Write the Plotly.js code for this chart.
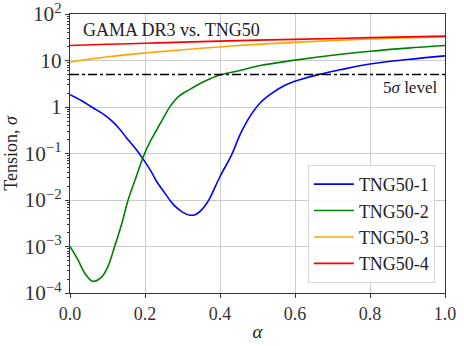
<!DOCTYPE html>
<html>
<head>
<meta charset="utf-8">
<script src="https://cdn.plot.ly/plotly-3.0.1.min.js"></script>
<style>
  html, body { margin: 0; padding: 0; background: #fff; }
  #plot { width: 464px; height: 346px; }
</style>
</head>
<body>
<div id="plot"></div>
<script>
// tension vs alpha
let alpha1 = [0, 0.03, 0.062, 0.085, 0.107, 0.13, 0.151, 0.175, 0.196, 0.215, 0.231, 0.25, 0.267, 0.28, 0.3, 0.32, 0.335, 0.347, 0.36, 0.373, 0.4, 0.43, 0.455, 0.48, 0.507, 0.533, 0.56, 0.587, 0.613, 0.667, 0.72, 0.8, 0.9, 1.0];
let tng1 = [1.84, 1.38, 0.95, 0.74, 0.54, 0.355, 0.215, 0.126, 0.074, 0.043, 0.025, 0.0152, 0.0098, 0.0074, 0.0055, 0.0047, 0.0049, 0.0057, 0.0075, 0.011, 0.032, 0.09, 0.27, 0.63, 1.22, 1.84, 2.57, 3.28, 3.87, 5.1, 6.3, 8.4, 10.5, 12.6];

let alpha2 = [0, 0.021, 0.039, 0.061, 0.084, 0.101, 0.119, 0.137, 0.155, 0.175, 0.196, 0.215, 0.231, 0.25, 0.267, 0.29, 0.32, 0.347, 0.375, 0.4, 0.453, 0.507, 0.6, 0.7, 0.8, 0.9, 1.0];
let tng2 = [0.001, 0.00052, 0.00027, 0.000178, 0.00022, 0.00037, 0.001, 0.0029, 0.01, 0.029, 0.088, 0.19, 0.32, 0.6, 1.03, 1.7, 2.4, 3.2, 4.1, 4.9, 6.1, 7.8, 10.2, 13, 15.8, 18.5, 21];

let alpha34 = [0, 0.1, 0.2, 0.3, 0.45, 0.6, 0.8, 1.0];
let tng3 = [9.3, 12, 14.5, 17, 21, 24.5, 29, 32];
let tng4 = [21, 22.3, 23.5, 24.8, 26.8, 28.5, 31, 33.5];

let fiveSigma = 5;

let serif = "Liberation Serif";

function series(x, y, name, color) {
    return {
        x: x, y: y, name: name, type: "scatter", mode: "lines",
        line: { color: color, width: 1.6, shape: "spline", smoothing: 1 }
    };
}

let data = [
    series(alpha1, tng1, "TNG50-1", "blue"),
    series(alpha2, tng2, "TNG50-2", "green"),
    series(alpha34, tng3, "TNG50-3", "orange"),
    series(alpha34, tng4, "TNG50-4", "red"),
    // 5 sigma reference line
    {
        x: [0, 1], y: [fiveSigma, fiveSigma], type: "scatter", mode: "lines",
        line: { color: "black", width: 1.5, dash: "dashdot" },
        showlegend: false, hoverinfo: "skip"
    }
];

let layout = {
    width: 464,
    height: 346,
    margin: { l: 70, r: 19, t: 14, b: 53 },
    paper_bgcolor: "white",
    plot_bgcolor: "white",
    font: { family: serif, size: 18, color: "#222" },
    showlegend: true,
    xaxis: {
        range: [0, 1],
        dtick: 0.2,
        tickformat: ".1f",
        showgrid: true, gridcolor: "#cccccc", gridwidth: 1,
        zeroline: false,
        showline: true, linecolor: "#333", linewidth: 1, mirror: true,
        ticks: "outside", ticklen: 4, tickcolor: "#333",
        tickfont: { family: serif, size: 18, color: "#333" },
        title: { text: "<i>α</i>", font: { family: serif, size: 19 }, standoff: 2 }
    },
    yaxis: {
        type: "log",
        range: [-4, 2],
        dtick: 1,
        exponentformat: "power",
        ticklabeloverflow: "allow",
        showgrid: true, gridcolor: "#cccccc", gridwidth: 1,
        zeroline: false,
        showline: true, linecolor: "#333", linewidth: 1, mirror: true,
        ticks: "outside", ticklen: 4, tickcolor: "#333",
        minor: { ticks: "outside", ticklen: 2, tickcolor: "#333", showgrid: false },
        tickfont: { family: serif, size: 17, color: "#333" },
        title: { text: "Tension, <i>σ</i>", font: { family: serif, size: 18 }, standoff: 2 }
    },
    legend: {
        x: 0.973, y: 0.036, xanchor: "right", yanchor: "bottom",
        bgcolor: "rgba(255,255,255,0.85)",
        bordercolor: "#d8d8d8", borderwidth: 1,
        itemwidth: 40,
        font: { family: serif, size: 18, color: "#222" }
    },
    annotations: [
        {
            text: "GAMA DR3 vs. TNG50", xref: "paper", yref: "paper",
            x: 0.03, y: 0.985, xanchor: "left", yanchor: "top",
            showarrow: false, font: { family: serif, size: 18, color: "#222" }
        },
        {
            text: "5<i>σ</i> level", xref: "paper", yref: "paper",
            x: 0.985, y: 0.735, xanchor: "right", yanchor: "middle",
            showarrow: false, font: { family: serif, size: 17, color: "#222" }
        }
    ]
};

Plotly.newPlot("plot", data, layout, { staticPlot: true });
</script>
</body>
</html>
